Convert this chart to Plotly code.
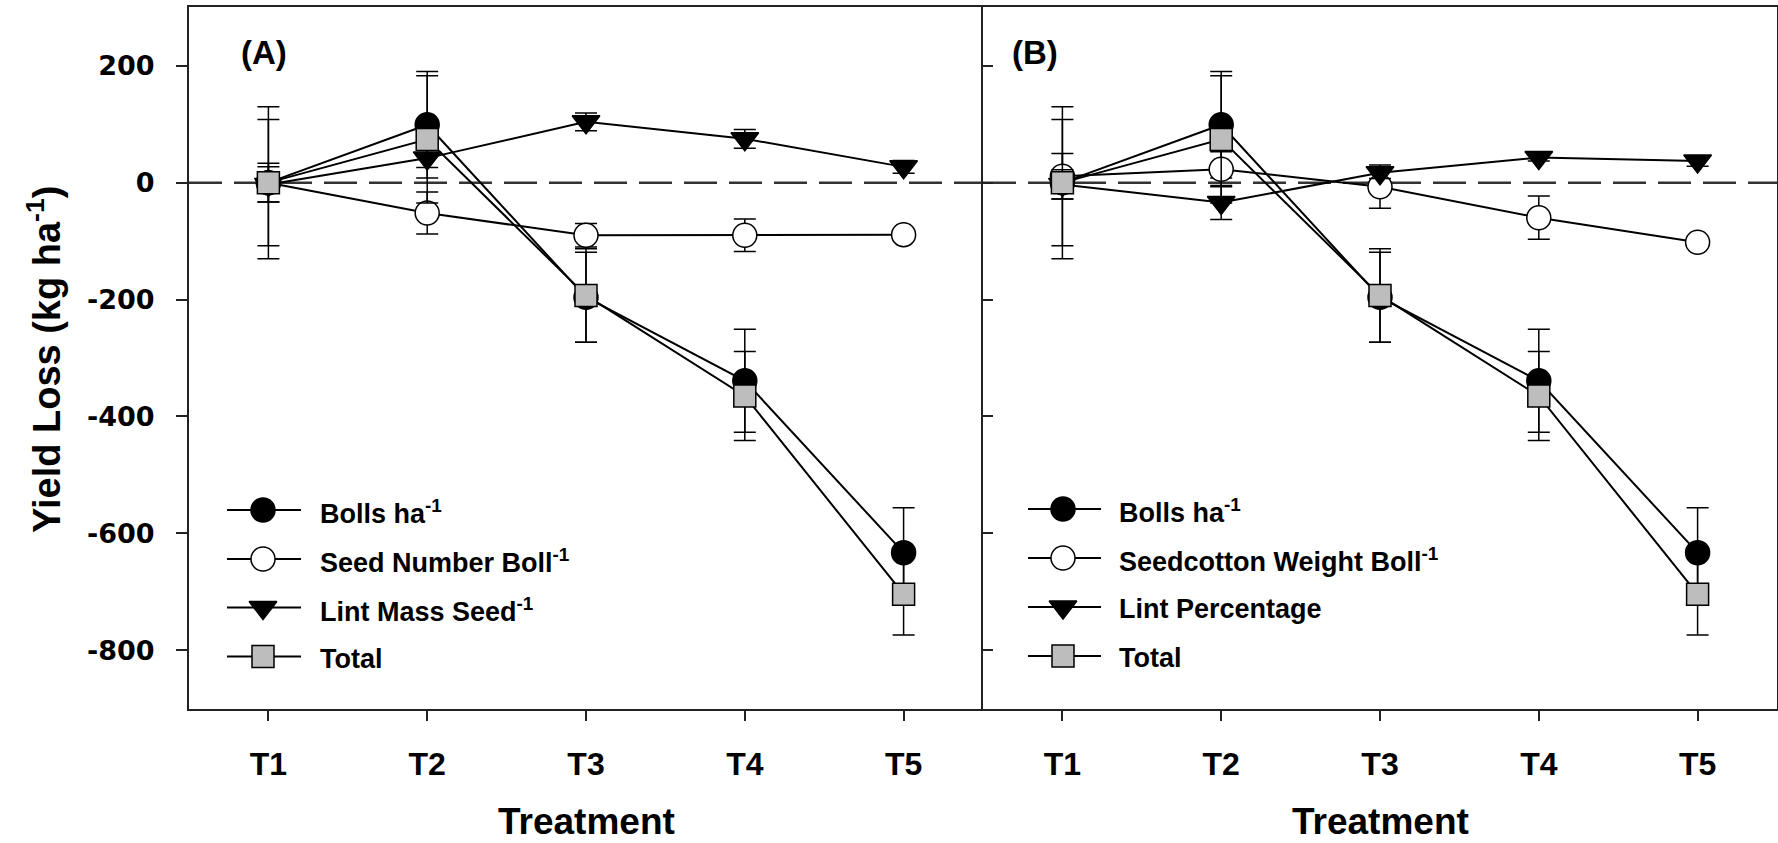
import plotly.graph_objects as go

W, H = 1778, 843

# ---- data -------------------------------------------------------------
treatments = ["T1", "T2", "T3", "T4", "T5"]

# components shared by both panels
bolls = [0, 99, -196, -339, -633]
bolls_err = [108, 91, 77, 88, 77]
total = [0, 74, -193, -365, -704]
total_err = [130, 109, 80, 76, 70]

# panel (A)
seed_number = [0, -52, -90, -90, -89]
seed_number_err = [33, 36, 20, 28, 5]
lint_mass = [-3, 42, 104, 75, 27]
lint_mass_err = [30, 16, 15, 16, 11]

# panel (B)
seedcotton_weight = [11, 23, -7, -60, -102]
seedcotton_weight_err = [39, 30, 37, 37, 5]
lint_percentage = [-3, -34, 17, 43, 37]
lint_percentage_err = [25, 29, 10, 6, 9]

names_a = ["Bolls ha<sup>-1</sup>", "Seed Number Boll<sup>-1</sup>",
           "Lint Mass Seed<sup>-1</sup>", "Total"]
names_b = ["Bolls ha<sup>-1</sup>", "Seedcotton Weight Boll<sup>-1</sup>",
           "Lint Percentage", "Total"]
panel_labels = ["(A)", "(B)"]
y_ticks = [200, 0, -200, -400, -600, -800]
y_tick_labels = ["200", "0", "-200", "-400", "-600", "-800"]

# ---- styles -----------------------------------------------------------
FONT = "Liberation Sans, Arial, sans-serif"
TICKFONT_Y = "DejaVu Sans, Arial, sans-serif"
styles = [
    dict(symbol="circle", size=24, color="black"),
    dict(symbol="circle", size=24, color="white"),
    dict(symbol="triangle-down", size=24, color="black"),
    dict(symbol="square", size=22, color="#bdbdbd"),
]

# pixel geometry of the two panels
PX_A = (189, 983)
PX_B = (983, 1777)
PY = (7.3, 708.7)


def dom_x(px):
    return [px[0] / W, px[1] / W]


dom_y = [1 - PY[1] / H, 1 - PY[0] / H]

fig = go.Figure()

panels = [
    ("x", "y", [bolls, seed_number, lint_mass, total],
     [bolls_err, seed_number_err, lint_mass_err, total_err], names_a),
    ("x2", "y2", [bolls, seedcotton_weight, lint_percentage, total],
     [bolls_err, seedcotton_weight_err, lint_percentage_err, total_err], names_b),
]

for xa, ya, values, errors, names in panels:
    for vals, errs, st in zip(values, errors, styles):
        fig.add_trace(go.Scatter(
            x=treatments, y=vals, xaxis=xa, yaxis=ya,
            mode="lines+markers",
            line=dict(color="black", width=2),
            marker=dict(symbol=st["symbol"], size=st["size"], color=st["color"],
                        line=dict(color="black", width=1.5)),
            error_y=dict(type="data", array=errs, visible=True, color="black",
                         thickness=1.5, width=11),
            showlegend=False, hoverinfo="skip", cliponaxis=False,
        ))

# ---- hand-drawn legends on a pixel-space overlay axis ------------------
legend_boxes = [
    dict(x0=227, xm=263, x1=301, xt=318, rows=[510, 559, 607.5, 656.5], names=names_a),
    dict(x0=1028, xm=1063, x1=1101, xt=1117, rows=[509, 558, 607, 656], names=names_b),
]
annotations = []
for box in legend_boxes:
    for yrow, st, name in zip(box["rows"], styles, box["names"]):
        fig.add_trace(go.Scatter(
            x=[box["x0"], box["x1"]], y=[yrow, yrow], xaxis="x3", yaxis="y3",
            mode="lines", line=dict(color="black", width=2),
            showlegend=False, hoverinfo="skip",
        ))
        fig.add_trace(go.Scatter(
            x=[box["xm"]], y=[yrow], xaxis="x3", yaxis="y3", mode="markers",
            marker=dict(symbol=st["symbol"], size=st["size"], color=st["color"],
                        line=dict(color="black", width=1.5)),
            showlegend=False, hoverinfo="skip",
        ))
        annotations.append(dict(
            x=box["xt"], y=yrow + 2, xref="x3", yref="y3", text=name,
            showarrow=False, xanchor="left", yanchor="middle",
            font=dict(family=FONT, size=27, color="black", weight="bold"),
        ))

# panel letters
for label, xp in zip(panel_labels, [239, 1010]):
    annotations.append(dict(
        x=xp, y=52, xref="x3", yref="y3", text=label, showarrow=False,
        xanchor="left", yanchor="middle",
        font=dict(family=FONT, size=33, color="black", weight="bold"),
    ))

# axis titles
for xc in [(PX_A[0] + PX_A[1]) / 2, (PX_B[0] + PX_B[1]) / 2]:
    annotations.append(dict(
        x=xc, y=821, xref="x3", yref="y3", text="Treatment", showarrow=False,
        xanchor="center", yanchor="middle",
        font=dict(family=FONT, size=37, color="black", weight="bold"),
    ))
annotations.append(dict(
    x=44, y=360, xref="x3", yref="y3", text="Yield Loss (kg ha<sup>-1</sup>)",
    showarrow=False, textangle=-90, xanchor="center", yanchor="middle",
    font=dict(family=FONT, size=38, color="black", weight="bold"),
))

# dashed zero reference line in each panel
shapes = []
for xr, yr in [("x domain", "y"), ("x2 domain", "y2")]:
    shapes.append(dict(type="line", xref=xr, yref=yr, x0=0, x1=1, y0=0, y1=0,
                       line=dict(color="#333333", width=2.5, dash="33px,12px"),
                       layer="below"))

axis_common = dict(showgrid=False, zeroline=False, showline=True,
                   linecolor="#222222", linewidth=2, tickcolor="#222222",
                   tickwidth=1.5, fixedrange=True)
xcommon = dict(axis_common, type="category", range=[-0.5, 4.5], ticks="outside",
               mirror=True, ticklen=10,
               tickfont=dict(family=FONT, size=32, color="black", weight="bold"),
               ticklabelstandoff=16)
ycommon = dict(axis_common, range=[-900, 300], tickvals=y_ticks,
               ticktext=y_tick_labels)

fig.update_layout(
    width=W, height=H,
    margin=dict(l=0, r=0, t=0, b=0),
    paper_bgcolor="white", plot_bgcolor="rgba(0,0,0,0)",
    xaxis=dict(xcommon, domain=dom_x(PX_A), anchor="y"),
    # the divider between the panels is the left line of panel (B)
    yaxis=dict(ycommon, domain=dom_y, anchor="x", mirror=False,
               ticks="outside", ticklen=11,
               tickfont=dict(family=TICKFONT_Y, size=27, color="black",
                             weight="bold"),
               ticklabelstandoff=16),
    xaxis2=dict(xcommon, domain=dom_x(PX_B), anchor="y2"),
    yaxis2=dict(ycommon, domain=dom_y, anchor="x2", mirror=True,
                ticks="inside", ticklen=10, showticklabels=False),
    xaxis3=dict(domain=[0, 1], range=[0, W], visible=False, anchor="y3",
                fixedrange=True),
    yaxis3=dict(domain=[0, 1], range=[H, 0], visible=False, anchor="x3",
                fixedrange=True),
    annotations=annotations,
    shapes=shapes,
)

fig.write_html("out.html", config={"displayModeBar": False})
